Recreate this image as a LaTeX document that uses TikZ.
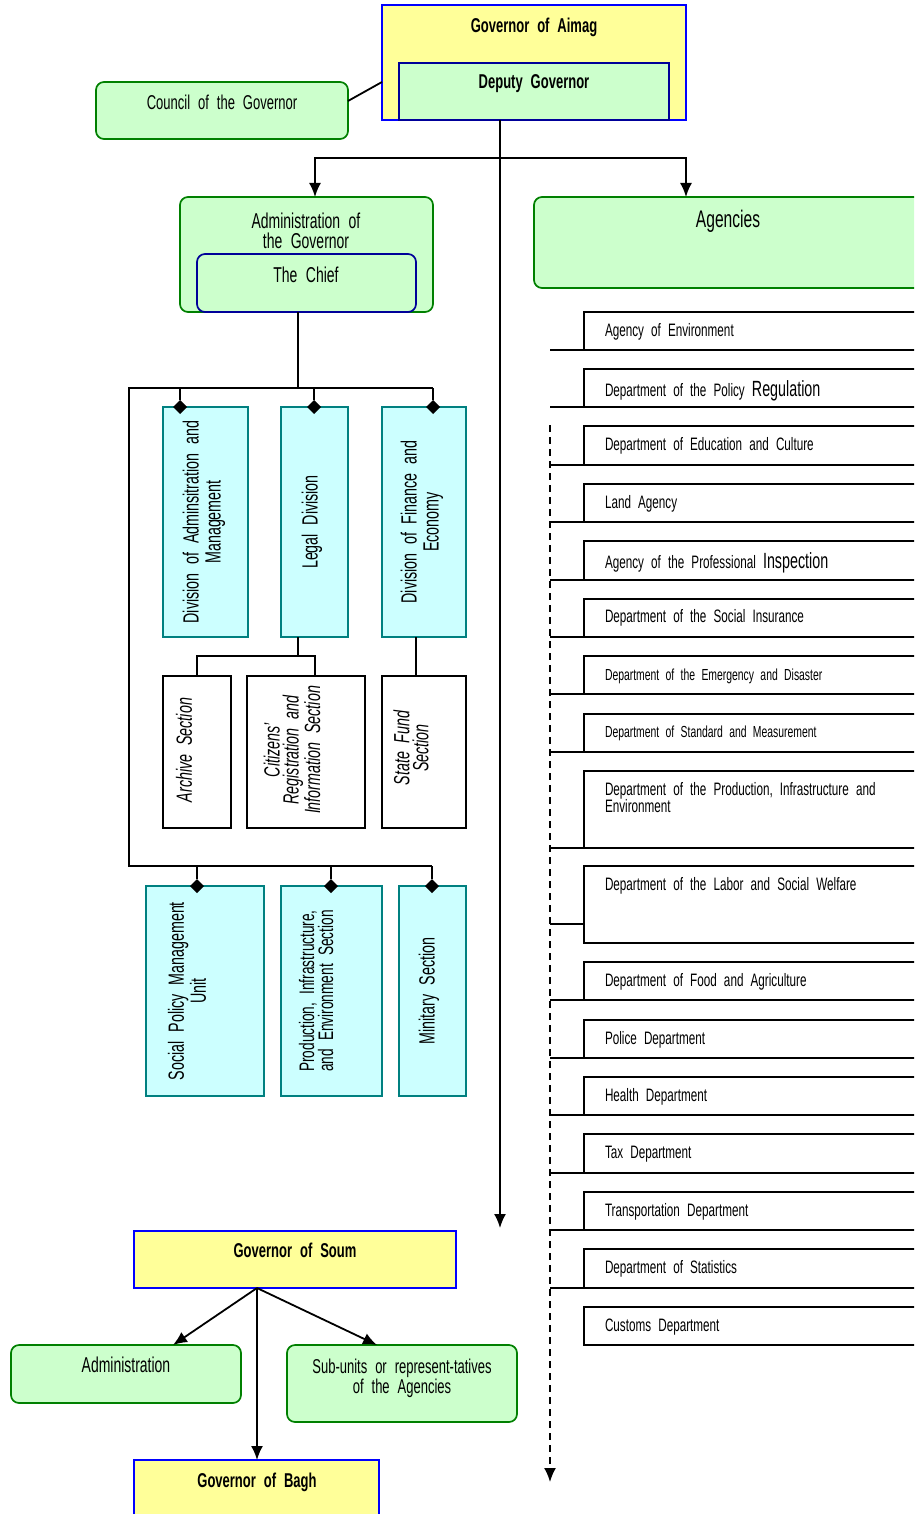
\documentclass[tikz,border=0pt]{standalone}
\usepackage{fontspec}
\setmainfont{Liberation Sans}[FakeStretch=0.65, WordSpace=2.2]
\usetikzlibrary{arrows.meta, shapes.geometric, fit}

\definecolor{govfill}{HTML}{FFFF99}
\definecolor{govline}{HTML}{0000FF}
\definecolor{navyline}{HTML}{000099}
\definecolor{unitfill}{HTML}{CCFFCC}
\definecolor{unitline}{HTML}{008000}
\definecolor{divfill}{HTML}{CCFFFF}
\definecolor{divline}{HTML}{008080}

\tikzset{
  every node/.style={inner sep=0pt, outer sep=0pt},
  govbox/.style={draw=govline, fill=govfill, line width=1.7pt},
  deputybox/.style={draw=navyline, fill=unitfill, line width=1.7pt},
  unitbox/.style={draw=unitline, fill=unitfill, line width=1.7pt, rounded corners=8pt},
  chiefbox/.style={draw=navyline, fill=unitfill, line width=1.7pt, rounded corners=8pt},
  divbox/.style={draw=divline, fill=divfill, line width=1.7pt},
  secbox/.style={draw=black, fill=white, line width=1.7pt},
  agbox/.style={draw=black, fill=white, line width=1.7pt},
  link/.style={draw=black, line width=1.8pt},
  arr/.style={link, -{Latex[length=14pt,width=12pt]}},
  dashlink/.style={link, dash pattern=on 7pt off 5pt, -{Latex[length=14pt,width=12pt]}},
  tip/.style={diamond, fill=black, minimum size=14pt},
  lbl/.style={font=\fontsize{20}{20}\selectfont, align=center},
  biglbl/.style={font=\fontsize{21.5}{20}\selectfont, align=center},
  ttl/.style={font=\fontsize{20}{22}\selectfont\bfseries, anchor=base},
  vlbl/.style={rotate=90, font=\fontsize{22}{22}\selectfont, align=center},
  vital/.style={rotate=90, font=\fontsize{22}{19}\selectfont\itshape, align=center},
  aglbl/.style={anchor=base west, font=\fontsize{18}{18}\selectfont},
}

\begin{document}
\begin{tikzpicture}[x=1pt, y=-1pt]
\clip (0,0) rectangle (914,1514);
\fill[white] (0,0) rectangle (914,1514);

% ---------- reference points for connectors ----------
\coordinate (mainend) at (500,1228);
\coordinate (split) at (500,158);
\coordinate (hub) at (298,388);
\coordinate (lg) at (298,656);
\coordinate (soumfoot) at (257,1288);

% ---------- top level ----------
\node[govbox, fit={(382,5) (686,120)}] (aimag) {};
\node[deputybox, fit={(399,63) (669,120)}] (deputy) {};
\node[ttl] (aimagt) at (534,33) {Governor of Aimag};
\node[ttl] (deputyt) at (534,89) {Deputy Governor};

\node[unitbox, fit={(96,82) (348,139)}] (council) {};
\node[lbl, anchor=base] (councilt) at (222,110) {Council of the Governor};
\draw[link] ([yshift=9.5pt]council.east) -- ([yshift=-19.5pt]aimag.west);

\node[unitbox, fit={(180,197) (433,312)}] (admin) {};
\node[biglbl] (admint) at (306,231) {Administration of\\the Governor};
\node[chiefbox, fit={(197,254) (416,312)}] (chief) {};
\node[biglbl, anchor=base] (chieft) at (306,282) {The Chief};

\node[unitbox, fit={(534,197) (940,288)}] (agencies) {};
\node[font=\fontsize{24}{26}\selectfont, anchor=base] (agenciest) at (728,228) {Agencies};

% connectors from the deputy governor
\draw[link] (deputy.south -| mainend) -- (split);
\draw[arr] (split) -- (mainend);
\draw[arr] (split) -| ([xshift=8.5pt]admin.north);
\draw[arr] (split) -| ([xshift=-51pt]agencies.north);

% ---------- administration of the governor ----------
\draw[link] (hub |- admin.south) -- (hub);
\draw[link] (433,388) -- (129,388) -- (129,866) -- (432,866);

\node[divbox, fit={(163,407) (248,637)}] (divadm) {};
\node[divbox, fit={(281,407) (348,637)}] (legal) {};
\node[divbox, fit={(382,407) (466,637)}] (finance) {};

\node[vlbl] (divadmt) at (204,522) {Division of Adminsitration and\\Management};
\node[vlbl] (legalt) at (312,522) {Legal Division};
\node[vlbl] (financet) at (422,522) {Division of Finance and\\Economy};

\draw[link] (legal.south -| lg) -- (lg);
\draw[link] (197,676) |- (315,656) -- (315,676);
\draw[link] ([xshift=-8pt]finance.south) -- (416,676);

\node[secbox, fit={(163,676) (231,828)}] (archive) {};
\node[secbox, fit={(247,676) (365,828)}] (citizens) {};
\node[secbox, fit={(382,676) (466,828)}] (statefund) {};

\node[vital] (archivet) at (184,750) {Archive Section};
\node[vital] (citizenst) at (292,750) {Citizens'\\Registration and\\Information Section};
\node[vital] (statefundt) at (411,748) {State Fund\\Section};

\node[divbox, fit={(146,886) (264,1096)}] (social) {};
\node[divbox, fit={(281,886) (382,1096)}] (prod) {};
\node[divbox, fit={(399,886) (466,1096)}] (military) {};

\node[vlbl] (socialt) at (187,991) {Social Policy Management\\Unit};
\node[vlbl, font=\fontsize{21}{19}\selectfont] (prodt) at (316,991) {Production, Infrastructure,\\and Environment Section};
\node[vlbl] (militaryt) at (429,991) {Minitary Section};

% diamonds where the frame meets each division
\node[tip] (t1) at (180,407) {};
\node[tip] (t2) at (314,407) {};
\node[tip] (t3) at (433,407) {};
\node[tip] (t4) at (197,886) {};
\node[tip] (t5) at (331,886) {};
\node[tip] (t6) at (432,886) {};
\draw[link] (t1 |- hub) -- (t1.north);
\draw[link] (t2 |- hub) -- (t2.north);
\draw[link] (t3 |- hub) -- (t3.north);
\draw[link] (197,866) -- (t4.north);
\draw[link] (331,866) -- (t5.north);
\draw[link] (432,866) -- (t6.north);

% ---------- agencies ----------
\draw[dashlink] (550,425) -- (550,1482);

\node[agbox, fit={(584,312) (940,350)}] (ag1) {};
\node[aglbl] (ag1t) at (605,336) {Agency of Environment};
\node[agbox, fit={(584,369) (940,407)}] (ag2) {};
\node[aglbl] (ag2t) at (605,396) {Department of the Policy {\fontsize{22}{22}\selectfont Regulation}};
\node[agbox, fit={(584,426) (940,465)}] (ag3) {};
\node[aglbl] (ag3t) at (605,450) {Department of Education and Culture};
\node[agbox, fit={(584,484) (940,522)}] (ag4) {};
\node[aglbl] (ag4t) at (605,508) {Land Agency};
\node[agbox, fit={(584,541) (940,580)}] (ag5) {};
\node[aglbl] (ag5t) at (605,568) {Agency of the Professional {\fontsize{22}{22}\selectfont Inspection}};
\node[agbox, fit={(584,599) (940,637)}] (ag6) {};
\node[aglbl] (ag6t) at (605,622) {Department of the Social Insurance};
\node[agbox, fit={(584,656) (940,694)}] (ag7) {};
\node[aglbl, font=\fontsize{16}{16}\selectfont] (ag7t) at (605,680) {Department of the Emergency and Disaster};
\node[agbox, fit={(584,714) (940,752)}] (ag8) {};
\node[aglbl, font=\fontsize{16}{16}\selectfont] (ag8t) at (605,737) {Department of Standard and Measurement};
\node[agbox, fit={(584,771) (940,848)}] (ag9) {};
\node[aglbl, anchor=west, align=left, font=\fontsize{18}{17}\selectfont] (ag9t) at (605,798) {Department of the Production, Infrastructure and\\Environment};
\node[agbox, fit={(584,866) (940,943)}] (ag10) {};
\node[aglbl] (ag10t) at (605,890) {Department of the Labor and Social Welfare};
\node[agbox, fit={(584,962) (940,1000)}] (ag11) {};
\node[aglbl] (ag11t) at (605,986) {Department of Food and Agriculture};
\node[agbox, fit={(584,1020) (940,1058)}] (ag12) {};
\node[aglbl] (ag12t) at (605,1044) {Police Department};
\node[agbox, fit={(584,1077) (940,1115)}] (ag13) {};
\node[aglbl] (ag13t) at (605,1101) {Health Department};
\node[agbox, fit={(584,1134) (940,1173)}] (ag14) {};
\node[aglbl] (ag14t) at (605,1158) {Tax Department};
\node[agbox, fit={(584,1192) (940,1230)}] (ag15) {};
\node[aglbl] (ag15t) at (605,1216) {Transportation Department};
\node[agbox, fit={(584,1249) (940,1288)}] (ag16) {};
\node[aglbl] (ag16t) at (605,1273) {Department of Statistics};
\node[agbox, fit={(584,1307) (940,1345)}] (ag17) {};
\node[aglbl] (ag17t) at (605,1331) {Customs Department};

% ties from the dashed line to each agency
\foreach \a in {ag1,ag2,ag3,ag4,ag5,ag6,ag7,ag8,ag9,ag11,ag12,ag13,ag14,ag15,ag16}
  \draw[link] (\a.south west) -- ++(-34,0);
\draw[link] (ag10.west) ++(0,19.5) -- ++(-34,0);

% ---------- soum and bagh ----------
\node[govbox, fit={(134,1231) (456,1288)}] (soum) {};
\node[ttl] (soumt) at (295,1257) {Governor of Soum};
\node[unitbox, fit={(11,1345) (241,1403)}] (adm2) {};
\node[biglbl, anchor=base] (adm2t) at (126,1372) {Administration};
\node[unitbox, fit={(287,1345) (517,1422)}] (sub) {};
\node[lbl] (subt) at (402,1378) {Sub-units or represent-tatives\\of the Agencies};
\node[govbox, fit={(134,1460) (379,1530)}] (bagh) {};
\node[ttl] (bagh) at (257,1487) {Governor of Bagh};

\draw[arr] (soumfoot) -- ([xshift=47pt]adm2.north);
\draw[arr] (soumfoot) -- ([xshift=-25pt]sub.north);
\draw[arr] (soumfoot) -- (soumfoot |- 0,1460);
\end{tikzpicture}
\end{document}
